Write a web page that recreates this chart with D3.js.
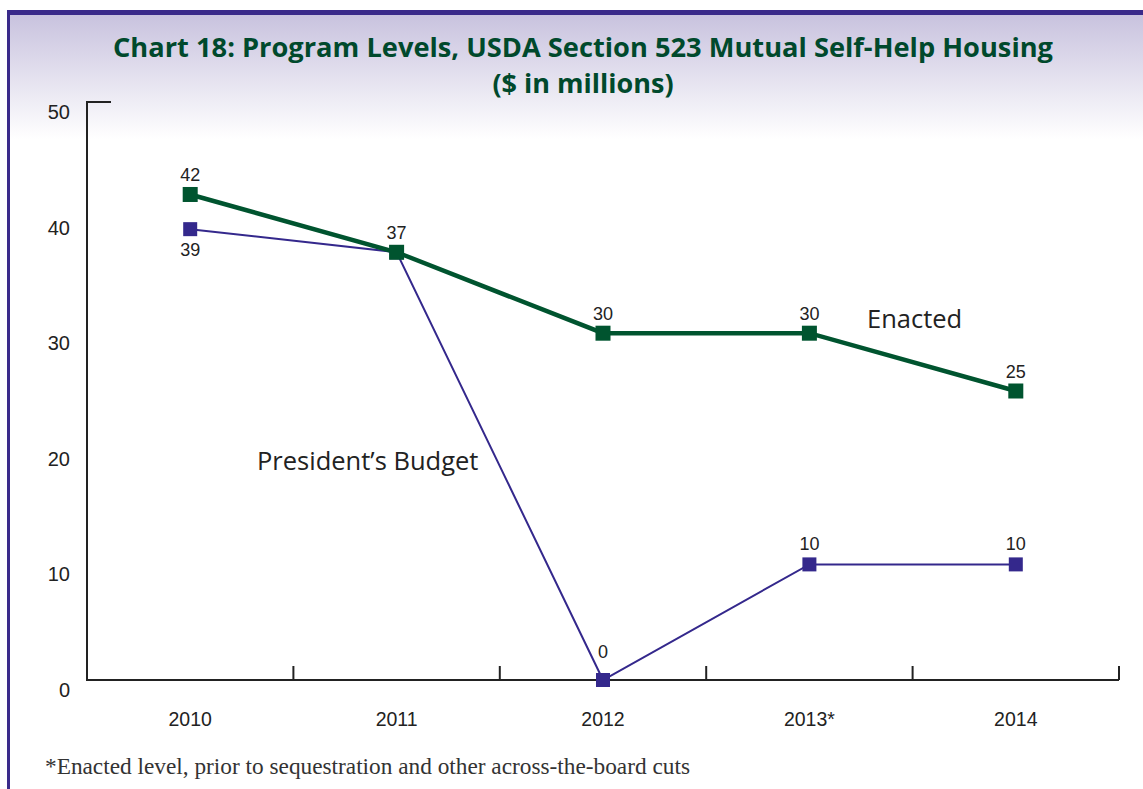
<!DOCTYPE html>
<html>
<head>
<meta charset="utf-8">
<script src="https://cdn.jsdelivr.net/npm/d3@7"></script>
<style>
  body { margin: 0; background: #fff; }
  svg { display: block; }
</style>
</head>
<body>
<svg></svg>
<script>
var years = ["2010", "2011", "2012", "2013*", "2014"];
var enacted = [42, 37, 30, 30, 25];
var presidents = [39, 37, 0, 10, 10];
var yTicks = [0, 10, 20, 30, 40, 50];

var svgWidth = 1143, svgHeight = 789;
var plotLeft = 87, plotRight = 1119, plotTop = 102, plotBottom = 680;

var svg = d3.select("svg")
    .attr("width", svgWidth)
    .attr("height", svgHeight);

// background gradient
var grad = svg.append("defs").append("linearGradient")
    .attr("id", "bg").attr("x1", 0).attr("y1", 0).attr("x2", 0).attr("y2", 1);
grad.append("stop").attr("offset", "0%").attr("stop-color", "#c8c2de");
grad.append("stop").attr("offset", "100%").attr("stop-color", "#ffffff");

svg.append("rect")
    .attr("x", 9).attr("y", 14)
    .attr("width", svgWidth - 9).attr("height", 125)
    .attr("fill", "url(#bg)");

// frame
svg.append("rect").attr("x", 7).attr("y", 10).attr("width", svgWidth - 7).attr("height", 5).attr("fill", "#3a2a8a");
svg.append("rect").attr("x", 7).attr("y", 10).attr("width", 3).attr("height", svgHeight - 10).attr("fill", "#3a2a8a");

// title
svg.append("text")
    .attr("x", 583).attr("y", 57)
    .attr("text-anchor", "middle")
    .attr("font-family", "Open Sans")
    .attr("font-weight", "bold")
    .attr("font-size", 27)
    .attr("textLength", 940)
    .attr("lengthAdjust", "spacingAndGlyphs")
    .attr("fill", "#00492c")
    .text("Chart 18: Program Levels, USDA Section 523 Mutual Self-Help Housing");
svg.append("text")
    .attr("x", 583).attr("y", 93)
    .attr("text-anchor", "middle")
    .attr("font-family", "Open Sans")
    .attr("font-weight", "bold")
    .attr("font-size", 27)
    .attr("fill", "#00492c")
    .text("($ in millions)");

// scales
var xScale = d3.scaleBand().domain(years).range([plotLeft, plotRight]);
var yScale = d3.scaleLinear().domain([0, 50]).range([plotBottom, plotTop]);
var cx = (d) => xScale(d) + xScale.bandwidth() / 2;

// y axis
svg.append("line")
    .attr("x1", plotLeft).attr("x2", plotLeft)
    .attr("y1", yScale(50) - 1).attr("y2", yScale(0))
    .attr("stroke", "#222").attr("stroke-width", 2);
svg.append("line")
    .attr("x1", plotLeft).attr("x2", plotLeft + 24)
    .attr("y1", yScale(50)).attr("y2", yScale(50))
    .attr("stroke", "#222").attr("stroke-width", 2);

svg.selectAll(".ylab")
    .data(yTicks)
    .enter()
    .append("text")
    .attr("class", "ylab")
    .attr("x", 70)
    .attr("y", (d) => yScale(d) + 17)
    .attr("text-anchor", "end")
    .attr("font-family", "Liberation Sans")
    .attr("font-size", 20)
    .attr("fill", "#222")
    .text((d) => d);

// x axis
svg.append("line")
    .attr("x1", plotLeft - 1).attr("x2", plotRight)
    .attr("y1", plotBottom).attr("y2", plotBottom)
    .attr("stroke", "#222").attr("stroke-width", 2);

var bounds = years.map((d) => xScale(d) + xScale.bandwidth());
svg.selectAll(".xtick")
    .data(bounds)
    .enter()
    .append("line")
    .attr("class", "xtick")
    .attr("x1", (d) => d).attr("x2", (d) => d)
    .attr("y1", plotBottom).attr("y2", plotBottom - 14)
    .attr("stroke", "#222").attr("stroke-width", 2);

svg.selectAll(".xlab")
    .data(years)
    .enter()
    .append("text")
    .attr("class", "xlab")
    .attr("x", (d) => cx(d))
    .attr("y", 726)
    .attr("text-anchor", "middle")
    .attr("font-family", "Liberation Sans")
    .attr("font-size", 19.5)
    .attr("fill", "#222")
    .text((d) => d);

// lines
var line = d3.line()
    .x((d, i) => cx(years[i]))
    .y((d) => yScale(d));

svg.append("path")
    .datum(presidents)
    .attr("d", line)
    .attr("fill", "none")
    .attr("stroke", "#34288c")
    .attr("stroke-width", 2);

svg.append("path")
    .datum(enacted)
    .attr("d", line)
    .attr("fill", "none")
    .attr("stroke", "#00542f")
    .attr("stroke-width", 4.5);

// markers
svg.selectAll(".pm")
    .data(presidents)
    .enter()
    .append("rect")
    .attr("class", "pm")
    .attr("x", (d, i) => cx(years[i]) - 7)
    .attr("y", (d) => yScale(d) - 7)
    .attr("width", 14).attr("height", 14)
    .attr("fill", "#34288c");

svg.selectAll(".em")
    .data(enacted)
    .enter()
    .append("rect")
    .attr("class", "em")
    .attr("x", (d, i) => cx(years[i]) - 7.5)
    .attr("y", (d) => yScale(d) - 7.5)
    .attr("width", 15).attr("height", 15)
    .attr("fill", "#00542f");

// value labels
var enactedLabels = enacted.map((d, i) => ({ v: d, x: cx(years[i]), y: yScale(d) - 13 }));
var presLabels = [
    { v: presidents[0], x: cx(years[0]), y: yScale(presidents[0]) + 27 },
    { v: presidents[2], x: cx(years[2]), y: yScale(presidents[2]) - 22 },
    { v: presidents[3], x: cx(years[3]), y: yScale(presidents[3]) - 14 },
    { v: presidents[4], x: cx(years[4]), y: yScale(presidents[4]) - 14 }
];

svg.selectAll(".vlab")
    .data(enactedLabels.concat(presLabels))
    .enter()
    .append("text")
    .attr("class", "vlab")
    .attr("x", (d) => d.x)
    .attr("y", (d) => d.y)
    .attr("text-anchor", "middle")
    .attr("font-family", "Liberation Sans")
    .attr("font-size", 18)
    .attr("fill", "#222")
    .text((d) => d.v);

// series names
svg.append("text")
    .attr("x", 867).attr("y", 328)
    .attr("font-family", "Open Sans")
    .attr("font-size", 25.5)
    .attr("fill", "#222")
    .text("Enacted");
svg.append("text")
    .attr("x", 257).attr("y", 470)
    .attr("font-family", "Open Sans")
    .attr("font-size", 25.5)
    .attr("fill", "#222")
    .text("President\u2019s Budget");

// footnote
svg.append("text")
    .attr("x", 45).attr("y", 774)
    .attr("font-family", "Liberation Serif")
    .attr("font-size", 23.3)
    .attr("fill", "#333")
    .text("*Enacted level, prior to sequestration and other across-the-board cuts");
</script>
</body>
</html>
